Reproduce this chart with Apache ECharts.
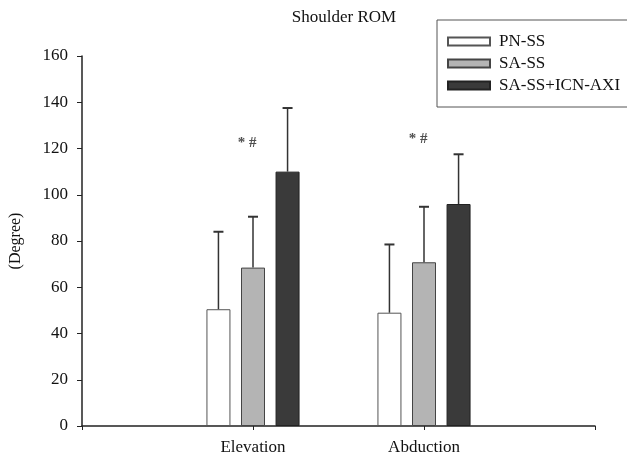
<!DOCTYPE html>
<html>
<head>
<meta charset="utf-8">
<script src="https://cdn.jsdelivr.net/npm/echarts@6/dist/echarts.min.js"></script>
<style>html,body{margin:0;padding:0;background:#fff}#c{width:627px;height:459px}</style>
</head>
<body>
<div id="c"></div>
<script>
const categories = ['Elevation', 'Abduction'];
const seriesNames = ['PN-SS', 'SA-SS', 'SA-SS+ICN-AXI'];
const pnssMean = [50.5, 49];
const pnssSD = [33.5, 29.5];
const sassMean = [68.5, 70.8];
const sassSD = [22, 24];
const icnMean = [110, 96];
const icnSD = [27.5, 21.5];
const annotText = ['* #', '* #'];
const annotValue = [122.5, 124];
const yTicks = { min: 0, max: 160, interval: 20 };

const FONT = "'Liberation Serif', 'Times New Roman', serif";
const BAR_W = 24, BAR_GAP = 0.44;
const fills = ['#ffffff', '#b4b4b4', '#3a3a3a'];
const borders = ['#555', '#444', '#222'];
const means = [pnssMean, sassMean, icnMean];
const sds = [pnssSD, sassSD, icnSD];

// pad with empty slots so the axis spans wider than the groups
const axisData = [''].concat(categories, ['']);
function pad(arr) { return ['-'].concat(arr, ['-']); }

const series = [];
seriesNames.forEach((name, i) => {
  series.push({
    name: name, type: 'bar', barWidth: BAR_W, barGap: (BAR_GAP * 100) + '%',
    data: pad(means[i]),
    itemStyle: { color: fills[i], borderColor: borders[i], borderWidth: 1 },
    z: 2
  });
});
seriesNames.forEach((name, i) => {
  const off = (i - 1) * BAR_W * (1 + BAR_GAP);
  series.push({
    type: 'custom', silent: true, z: 3,
    data: categories.map((c, k) => [k + 1, means[i][k], means[i][k] + sds[i][k]]),
    renderItem: function (params, api) {
      const base = api.coord([api.value(0), api.value(1)]);
      const top = api.coord([api.value(0), api.value(2)]);
      const x = base[0] + off;
      const cap = 5;
      return { type: 'group', children: [
        { type: 'line', shape: { x1: x, y1: base[1], x2: x, y2: top[1] }, style: { stroke: '#333', lineWidth: 1.5 } },
        { type: 'line', shape: { x1: x - cap, y1: top[1], x2: x + cap, y2: top[1] }, style: { stroke: '#333', lineWidth: 2 } }
      ]};
    }
  });
});
series.push({
  type: 'scatter', symbolSize: 0, silent: true,
  data: categories.map((c, k) => ({ value: [k + 1, annotValue[k]], label: { formatter: annotText[k] } })),
  label: { show: true, position: 'inside', offset: [-6, 0], color: '#222', fontFamily: FONT, fontSize: 15, fontWeight: 'bold' }
});

const chart = echarts.init(document.getElementById('c'));
chart.setOption({
  animation: false,
  backgroundColor: '#fff',
  title: { text: 'Shoulder ROM', left: 339, textAlign: 'center', top: 4,
    textStyle: { fontFamily: FONT, fontSize: 17, fontWeight: 'normal', color: '#111' } },
  legend: {
    data: seriesNames, orient: 'vertical', left: 437, top: 20,
    padding: [13, 20, 13, 10], itemGap: 5, itemWidth: 42, itemHeight: 8, icon: 'rect',
    borderColor: '#555', borderWidth: 1,
    textStyle: { fontFamily: FONT, fontSize: 17, color: '#111', padding: [0, 0, 0, 4], lineHeight: 17 }
  },
  grid: { left: 82, right: 32, top: 56, bottom: 33 },
  xAxis: {
    type: 'category', data: axisData, boundaryGap: false,
    axisLine: { lineStyle: { color: '#222', width: 1.5 } },
    axisTick: { show: true, length: 4, lineStyle: { color: '#222' } },
    axisLabel: { fontFamily: FONT, fontSize: 17, color: '#111', margin: 13 }
  },
  yAxis: {
    type: 'value', min: yTicks.min, max: yTicks.max, interval: yTicks.interval,
    name: '(Degree)', nameLocation: 'middle', nameGap: 58,
    nameTextStyle: { fontFamily: FONT, fontSize: 16, color: '#111' },
    axisLine: { show: true, lineStyle: { color: '#222', width: 1.5 } },
    axisTick: { show: true, length: 5, lineStyle: { color: '#222' } },
    axisLabel: { fontFamily: FONT, fontSize: 17, color: '#111', margin: 14 },
    splitLine: { show: false }
  },
  series: series
});
</script>
</body>
</html>
